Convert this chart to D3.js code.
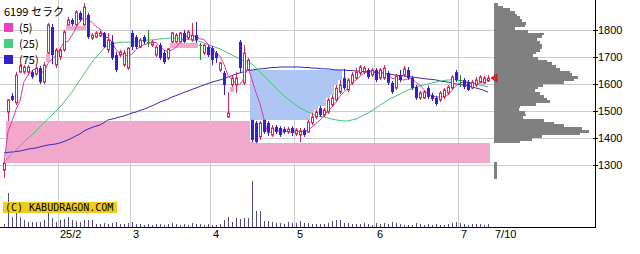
<!DOCTYPE html>
<html>
<head>
<meta charset="utf-8">
<script src="https://cdn.jsdelivr.net/npm/d3@7"></script>
<style>
body { margin: 0; background: #fff; }
svg { display: block; }
text { font-family: "Liberation Sans", Arial, sans-serif; }
</style>
</head>
<body>
<div id="chart"></div>
<script>
// daily OHLC, 2025/1/14 - 2025/7/10
const opens = [
  1281,1496,1556,1530,1644,1644,1644,1644,1637,1659,
  1607,1715,1811,1670,1700,1726,1819,1837,1819,1863,
  1819,1856,1770,1774,1778,1789,1726,1756,1707,1707,
  1670,1659,1789,1774,1737,1774,1756,1744,1707,1744,
  1715,1696,1756,1756,1756,1789,1770,1763,1781,1744,
  1715,1737,1733,1715,1652,1641,1478,1596,1596,1756,
  1604,1652,1467,1456,1404,1467,1456,1411,1441,1437,
  1433,1422,1437,1415,1411,1430,1422,1456,1478,1511,
  1485,1496,1522,1541,1570,1622,1578,1604,1622,1641,
  1644,1652,1633,1652,1622,1622,1641,1604,1585,1633,
  1633,1652,1622,1589,1548,1548,1585,1559,1548,1541,
  1552,1567,1585,1644,1615,1615,1607,1585,1596,1607,
  1604,1611
];
const highs = [
  1309,1544,1567,1645,1674,1670,1670,1652,1667,1667,
  1681,1826,1822,1733,1733,1800,1848,1844,1874,1870,
  1900,1863,1789,1796,1796,1793,1789,1781,1719,1726,
  1726,1737,1800,1781,1770,1781,1800,1763,1744,1752,
  1726,1733,1793,1789,1793,1800,1800,1826,1830,1752,
  1748,1744,1741,1722,1681,1648,1570,1630,1644,1763,
  1744,1696,1467,1463,1463,1467,1463,1448,1448,1444,
  1441,1441,1444,1437,1437,1437,1467,1493,1504,1519,
  1511,1548,1559,1596,1615,1656,1622,1644,1659,1670,
  1667,1659,1659,1659,1659,1670,1648,1611,1637,1652,
  1667,1663,1630,1596,1574,1578,1593,1567,1556,1574,
  1585,1596,1633,1652,1633,1622,1615,1615,1626,1633,
  1630,1633
];
const lows = [
  1252,1463,1537,1522,1641,1637,1633,1619,1630,1600,
  1600,1711,1674,1659,1689,1719,1819,1815,1815,1830,
  1815,1767,1763,1770,1774,1733,1715,1689,1644,1700,
  1663,1652,1726,1730,1733,1748,1737,1737,1700,1689,
  1674,1689,1752,1752,1752,1752,1763,1756,1752,1689,
  1707,1700,1670,1678,1644,1559,1474,1589,1567,1641,
  1596,1652,1385,1381,1393,1415,1407,1404,1415,1404,
  1415,1415,1407,1407,1385,1404,1419,1448,1470,1478,
  1478,1489,1515,1533,1563,1578,1570,1596,1615,1633,
  1637,1619,1626,1607,1615,1615,1596,1563,1578,1607,
  1626,1615,1578,1541,1541,1544,1544,1537,1519,1533,
  1544,1559,1578,1607,1589,1581,1574,1581,1589,1604,
  1600,1607
];
const closes = [
  1307,1541,1541,1633,1667,1663,1663,1626,1659,1607,
  1670,1819,1707,1726,1726,1793,1837,1822,1867,1837,
  1885,1774,1781,1789,1789,1737,1763,1696,1652,1719,
  1715,1733,1737,1737,1763,1756,1756,1756,1737,1696,
  1681,1730,1789,1781,1789,1756,1793,1781,1763,1744,
  1744,1707,1689,1696,1678,1596,1493,1622,1622,1659,
  1715,1689,1393,1385,1456,1422,1422,1437,1422,1411,
  1422,1433,1419,1430,1426,1411,1459,1478,1496,1485,
  1504,1541,1548,1585,1596,1585,1615,1633,1644,1663,
  1659,1626,1652,1615,1652,1659,1604,1570,1630,1615,
  1656,1622,1585,1548,1567,1570,1552,1544,1526,1567,
  1578,1589,1626,1615,1615,1589,1578,1607,1615,1626,
  1622,1622
];
const volumes = [
  30,340,100,140,100,70,50,50,50,50,
  70,140,90,50,70,80,100,70,60,50,
  70,70,70,30,30,40,30,40,50,30,
  30,40,50,30,30,20,30,20,30,30,
  20,30,40,30,20,30,20,40,30,30,
  20,30,20,20,30,70,100,50,90,80,
  90,90,460,160,160,60,60,50,40,40,
  30,50,40,40,60,40,40,30,30,30,
  30,40,60,70,70,40,40,30,30,30,
  40,30,20,40,30,40,30,50,40,30,
  20,20,20,40,30,20,30,20,30,20,
  20,30,40,50,40,30,20,30,30,30,
  20,30
];
// moving averages as drawn (25 and 75 use history before the window)
const ma25 = [
  1311,1326,1341,1356,1370,1385,1400,1411,1426,1441,
  1456,1470,1485,1500,1515,1533,1552,1570,1593,1615,
  1637,1659,1681,1700,1715,1733,1744,1748,1752,1754,
  1755,1755,1755,1757,1759,1761,1763,1763,1765,1767,
  1768,1770,1770,1770,1768,1767,1765,1763,1761,1757,
  1752,1746,1741,1735,1730,1722,1715,1707,1700,1693,
  1685,1681,1674,1659,1644,1630,1615,1600,1585,1570,
  1556,1544,1533,1522,1511,1504,1496,1489,1483,1480,
  1478,1474,1470,1467,1465,1463,1463,1467,1470,1478,
  1485,1493,1502,1511,1522,1531,1541,1548,1556,1563,
  1570,1578,1583,1589,1593,1596,1600,1604,1607,1611,
  1613,1615,1615,1615,1613,1611,1607,1604,1600,1596,
  1593,1589
];
const ma75 = [
  1345,1347,1348,1350,1352,1355,1359,1361,1363,1367,
  1371,1374,1376,1378,1382,1387,1393,1400,1408,1415,
  1426,1433,1439,1444,1448,1457,1467,1470,1474,1478,
  1482,1487,1493,1496,1502,1507,1513,1519,1526,1533,
  1539,1544,1552,1557,1563,1569,1574,1580,1585,1591,
  1596,1602,1607,1611,1615,1620,1626,1631,1637,1641,
  1646,1650,1652,1654,1656,1657,1659,1661,1661,1663,
  1663,1663,1663,1663,1663,1661,1661,1659,1659,1657,
  1656,1656,1654,1652,1652,1652,1650,1650,1648,1648,
  1646,1646,1644,1642,1641,1639,1637,1635,1633,1631,
  1630,1628,1626,1624,1622,1620,1618,1617,1615,1611,
  1609,1607,1604,1600,1598,1596,1593,1589,1585,1581,
  1576,1570
];
// price-by-volume, 10 yen bins from 1250
const profileStart = 1250;
const profileVals = [
  3,3,3,3,3,3,0,0,0,0,
  0,0,0,26,38,48,86,95,88,70,
  60,50,29,32,31,25,26,42,56,53,
  50,46,41,44,49,70,80,84,78,76,
  66,62,58,53,44,39,42,46,48,48,
  46,43,48,50,34,21,31,32,28,26,
  23,21,16,9,4
];
const priceTicks = [1300, 1400, 1500, 1600, 1700, 1800];
const monthStarts = [14, 32, 52, 73, 93, 114];
const monthLabels = ["25/2", "3", "4", "5", "6", "7"];
const lastLabel = "7/10";
const legendNames = ["(5)", "(25)", "(75)"];

const n = closes.length;
const ma5 = closes.map((c, i) => d3.mean(closes.slice(Math.max(0, i - 4), i + 1)));

const svg = d3.select("#chart").append("svg")
    .attr("width", 640)
    .attr("height", 254);

const x = d3.scaleLinear().domain([0, n - 1]).range([4, 488]);
const y = d3.scaleLinear().domain([1300, 1800]).range([165, 30]);
const yv = d3.scaleLinear().domain([0, 470]).range([227, 180]);
const xp = d3.scaleLinear().domain([0, 100]).range([494, 594]);

const up = "#dd2257", down = "#3322cc", flat = "#228822";

// grid
svg.selectAll(".hg").data(priceTicks).enter().append("line")
    .attr("x1", 0).attr("x2", 595)
    .attr("y1", d => Math.round(y(d)) + 0.5).attr("y2", d => Math.round(y(d)) + 0.5)
    .attr("stroke", "#cccccc");
svg.selectAll(".vg").data(monthStarts).enter().append("line")
    .attr("x1", d => Math.round(x(d - 0.5)) + 0.5).attr("x2", d => Math.round(x(d - 0.5)) + 0.5)
    .attr("y1", 0).attr("y2", 227)
    .attr("stroke", "#cccccc");

// open gaps (窓)
const gaps = [];
for (let g = 1; g < n; g++) {
    if (lows[g] > highs[g - 1]) {
        let bottom = highs[g - 1], top = lows[g];
        for (let k = g; k < n; k++) {
            top = Math.min(top, lows[k]);
            if (top <= bottom) break;
            gaps.push({k: k, lo: bottom, hi: top, up: true});
        }
    } else if (highs[g] < lows[g - 1]) {
        let top = lows[g - 1], bottom = highs[g];
        for (let k = g; k < n; k++) {
            bottom = Math.max(bottom, highs[k]);
            if (bottom >= top) break;
            gaps.push({k: k, lo: bottom, hi: top, up: false});
        }
    }
}
svg.selectAll(".gap").data(gaps).enter().append("rect")
    .attr("x", d => x(d.k) - 2).attr("width", 4)
    .attr("y", d => y(d.hi)).attr("height", d => y(d.lo) - y(d.hi))
    .attr("fill", d => d.up ? "#f2a8cb" : "#aec6f4")
    .attr("shape-rendering", "crispEdges");

// volume profile
svg.selectAll(".pv").data(profileVals).enter().append("rect")
    .attr("x", xp(0))
    .attr("width", d => xp(d) - xp(0))
    .attr("y", (d, i) => Math.round(y(profileStart + (i + 1) * 10)))
    .attr("height", (d, i) => Math.round(y(profileStart + i * 10)) - Math.round(y(profileStart + (i + 1) * 10)))
    .attr("fill", "#808080")
    .attr("shape-rendering", "crispEdges");

// volume bars
svg.selectAll(".vol").data(volumes).enter().append("line")
    .attr("x1", (d, i) => x(i) + 0.5).attr("x2", (d, i) => x(i) + 0.5)
    .attr("y1", yv(0)).attr("y2", d => yv(d))
    .attr("stroke", "#4d4d8c");

// moving averages
const lineGen = d3.line().x((d, i) => x(i)).y(d => y(d));
[[ma75, "#3a2ab8"], [ma25, "#44c477"], [ma5, "#e038a8"]].forEach(([s, c]) => {
    svg.append("path").attr("d", lineGen(s))
        .attr("fill", "none").attr("stroke", c).attr("stroke-width", 1);
});

// candles
const idx = d3.range(n);
const colorOf = i => closes[i] > opens[i] ? up : (closes[i] < opens[i] ? down : flat);
svg.selectAll(".wick").data(idx).enter().append("line")
    .attr("x1", i => x(i) + 0.5).attr("x2", i => x(i) + 0.5)
    .attr("y1", i => y(highs[i])).attr("y2", i => y(lows[i]))
    .attr("stroke", colorOf);
svg.selectAll(".body").data(idx).enter().append("rect")
    .attr("x", i => closes[i] > opens[i] ? x(i) - 0.5 : x(i) - 1)
    .attr("width", i => closes[i] > opens[i] ? 2 : 3)
    .attr("y", i => y(Math.max(opens[i], closes[i])))
    .attr("height", i => Math.max(1, y(Math.min(opens[i], closes[i])) - y(Math.max(opens[i], closes[i]))))
    .attr("fill", i => closes[i] > opens[i] ? "#fff" : colorOf(i))
    .attr("stroke", i => closes[i] > opens[i] ? up : "none");

// last price marker
const ly = y(closes[n - 1]);
svg.append("path")
    .attr("d", `M${x(n - 1) + 3},${ly} L${x(n - 1) + 9},${ly - 4} L${x(n - 1) + 9},${ly + 4} Z`)
    .attr("fill", "#e82020").attr("stroke", "#901010").attr("stroke-width", 0.6);

// axes
svg.append("line").attr("x1", 595.5).attr("x2", 595.5).attr("y1", 0).attr("y2", 228)
    .attr("stroke", "#000");
svg.append("line").attr("x1", 0).attr("x2", 596).attr("y1", 227.5).attr("y2", 227.5)
    .attr("stroke", "#000");
svg.selectAll(".tk").data(priceTicks).enter().append("line")
    .attr("x1", 593).attr("x2", 598)
    .attr("y1", d => Math.round(y(d)) + 0.5).attr("y2", d => Math.round(y(d)) + 0.5)
    .attr("stroke", "#000");
svg.selectAll(".yl").data(priceTicks).enter().append("text")
    .attr("x", 598).attr("y", d => y(d) + 4)
    .attr("font-size", 11).text(d => d);
svg.selectAll(".xl").data(monthStarts).enter().append("text")
    .attr("x", (d, i) => x(d - 0.5) + (i === 0 ? 2 : 3)).attr("y", 238)
    .attr("font-size", 11).text((d, i) => monthLabels[i]);
svg.append("text").attr("x", 495).attr("y", 238).attr("font-size", 11).text(lastLabel);

// legend
svg.append("text").attr("x", 4).attr("y", 16)
    .attr("font-size", 11).style("font-family", "'Noto Sans CJK JP', sans-serif")
    .text("6199 セラク");
const legendColors = ["#f040c0", "#44d080", "#3322cc"];
legendNames.forEach((t, i) => {
    svg.append("rect").attr("x", 4).attr("y", 23 + i * 16).attr("width", 9).attr("height", 9)
        .attr("fill", legendColors[i]);
    svg.append("text").attr("x", 19).attr("y", 32 + i * 16)
        .attr("font-size", 11).style("font-family", "'Noto Sans CJK JP', sans-serif")
        .text(t);
});

// copyright
svg.append("rect").attr("x", 3).attr("y", 202).attr("width", 114).attr("height", 11)
    .attr("fill", "#f0cc1c");
svg.append("text").attr("x", 5).attr("y", 211)
    .attr("font-size", 10).style("font-family", "'DejaVu Sans Mono', monospace")
    .text("(C) KABUDRAGON.COM");
</script>
</body>
</html>
